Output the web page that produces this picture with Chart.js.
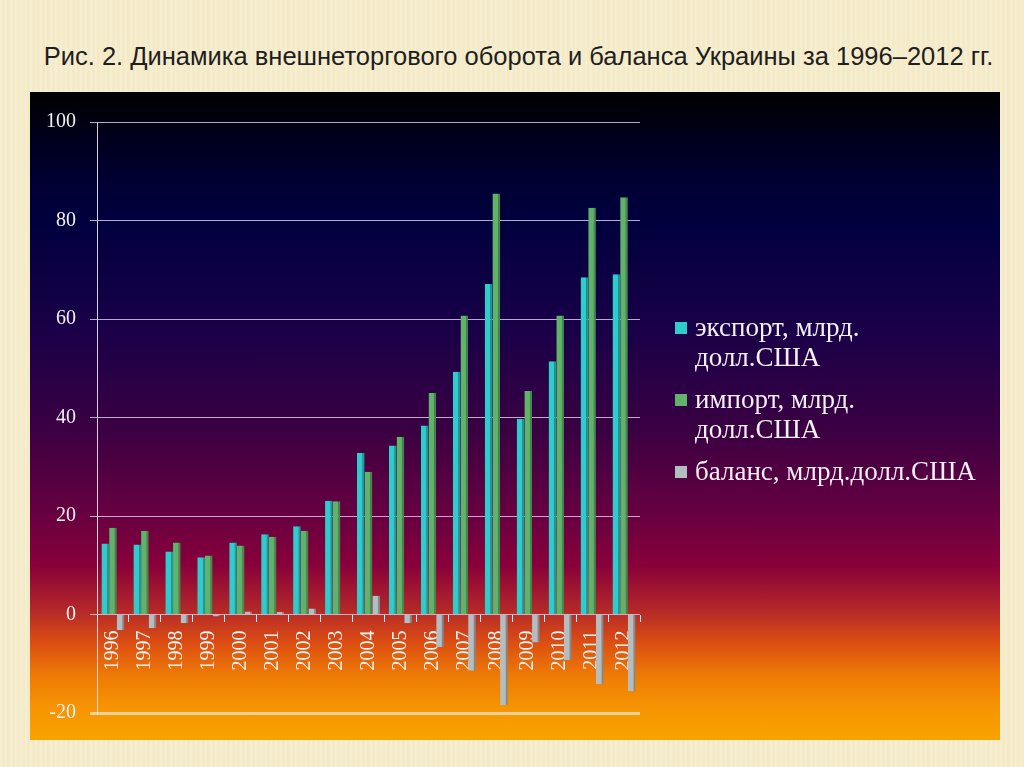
<!DOCTYPE html>
<html>
<head>
<meta charset="utf-8">
<script src="https://cdn.jsdelivr.net/npm/chart.js@4"></script>
<style>
  html, body { margin: 0; padding: 0; }
  body {
    width: 1024px; height: 767px; overflow: hidden; position: relative;
    background: #f4eac7 repeating-linear-gradient(90deg, rgba(255,255,255,0.18) 0 2px, rgba(0,0,0,0) 2px 5px);
  }
  #title {
    position: absolute; left: 0; width: 1037px; top: 42px; text-align: center; white-space: nowrap;
    font-family: "Liberation Sans", Arial, sans-serif; font-size: 25.5px; color: #1e1e1e;
  }
  #panel {
    position: absolute; left: 30px; top: 92px; width: 970px; height: 648px;
    background: linear-gradient(180deg, #000000 0%, #00002e 12%, #00003e 20%, #1a0048 37%, #3a0042 52%, #6a0040 66%, #88003a 73%, #b42828 80%, #dc4e12 85%, #ee7a06 90%, #f69402 95%, #f8a400 100%);
  }
  #legend {
    position: absolute; left: 675px; top: 312px; color: #f4f0f4;
    font-family: "Liberation Serif", "Times New Roman", serif; font-size: 27px;
  }
  .item { position: relative; padding-left: 20px; line-height: 30px; margin-bottom: 12px; white-space: pre-line; }
  .sw { position: absolute; left: 0; top: 10px; width: 12px; height: 12px; }
</style>
</head>
<body>
<div id="title">Рис. 2. Динамика внешнеторгового оборота и баланса Украины за 1996–2012 гг.</div>
<div id="panel"><canvas id="chart" width="970" height="648"></canvas></div>
<div id="legend"></div>
<script>
// годы
const years = ['1996','1997','1998','1999','2000','2001','2002','2003','2004','2005','2006','2007','2008','2009','2010','2011','2012'];
// экспорт, млрд. долл. США
const exportVals = [14.4, 14.2, 12.8, 11.6, 14.6, 16.3, 17.9, 23.1, 32.8, 34.3, 38.4, 49.3, 67.1, 39.7, 51.4, 68.5, 69.1];
// импорт, млрд. долл. США
const importVals = [17.6, 17.0, 14.6, 12.0, 14.0, 15.8, 17.0, 23.0, 29.0, 36.1, 45.0, 60.7, 85.5, 45.4, 60.7, 82.6, 84.7];
// баланс, млрд. долл. США
const balanceVals = [-3.2, -2.8, -1.8, -0.4, 0.6, 0.5, 1.2, 0.1, 3.8, -1.8, -6.6, -11.4, -18.4, -5.7, -9.3, -14.1, -15.6];
const seriesLabels = ['экспорт, млрд.\nдолл.США', 'импорт, млрд.\nдолл.США', 'баланс, млрд.долл.США'];
const seriesColors = ['#30cccc', '#62b26c', '#b2bec2'];
const sideColors = ['#1f9a9a', '#3f8a4c', '#7e8a8e'];

const allVals = [exportVals, importVals, balanceVals];

const chart = new Chart(document.getElementById('chart'), {
    type: 'bar',
    data: {
        labels: years,
        datasets: allVals.map((vals, i) => ({
            label: seriesLabels[i],
            data: vals,
            backgroundColor: seriesColors[i],
            borderColor: sideColors[i],
            borderWidth: { right: 2, top: 0, left: 0, bottom: 0 },
            borderSkipped: false,
            categoryPercentage: 0.72,
            barPercentage: 1.0
        }))
    },
    options: {
        responsive: false,
        animation: false,
        layout: { padding: { top: 30, bottom: 27, right: 360, left: 10 } },
        plugins: { legend: { display: false }, tooltip: { enabled: false } },
        scales: {
            x: {
                position: { y: 0 },
                grid: { display: true, drawOnChartArea: false, drawTicks: true, tickLength: 7, color: '#f0e8e8', offset: true },
                border: { display: false },
                ticks: {
                    color: '#f6f2f0', minRotation: 90, maxRotation: 90, padding: 9,
                    font: { family: 'Liberation Serif', size: 20 }
                }
            },
            y: {
                min: -20, max: 100,
                afterFit: (s) => { s.width = 57; },
                grid: {
                    color: (ctx) => ctx.tick && ctx.tick.value === -20 ? '#e6d29a' : 'rgba(215,200,230,0.85)',
                    lineWidth: (ctx) => ctx.tick && ctx.tick.value === -20 ? 3 : 1,
                    tickLength: 7
                },
                border: { color: 'rgba(235,230,240,0.9)' },
                ticks: {
                    stepSize: 20, color: '#f4f0f4', padding: 14,
                    font: { family: 'Liberation Serif', size: 20 }
                }
            }
        }
    }
});

// легенда справа
const legend = document.getElementById('legend');
chart.data.datasets.forEach((ds) => {
    const div = document.createElement('div');
    div.className = 'item';
    div.innerHTML = '<span class="sw" style="background:' + ds.backgroundColor + '"></span>' + ds.label;
    legend.appendChild(div);
});
</script>
</body>
</html>
